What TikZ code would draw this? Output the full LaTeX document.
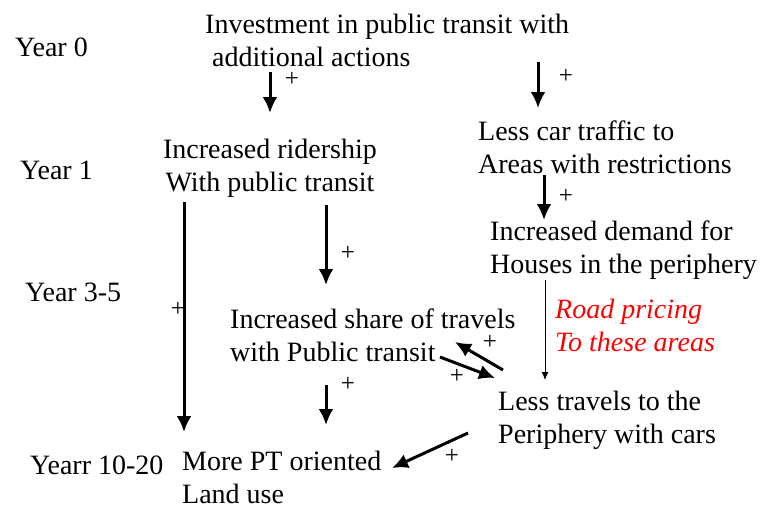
\documentclass[tikz,border=0pt]{standalone}
\usepackage{fontspec}
\setmainfont{Liberation Serif}
\usetikzlibrary{arrows.meta,calc}
\begin{document}
\begin{tikzpicture}[x=1pt,y=-1pt]
% Styles
\tikzstyle{txt}=[inner sep=0pt,font=\fontsize{28}{33}\selectfont]
\tikzstyle{bloc}=[txt,align=left,anchor=west]
\tikzstyle{sign}=[inner sep=0pt,font=\fontsize{25}{25}\selectfont]
\tikzstyle{link}=[-{Latex[length=16pt,width=15pt]},line width=3pt]
\tikzstyle{thinlink}=[-{Latex[length=8pt,width=7pt]},line width=0.9pt]
% Cadre
\useasboundingbox (0,0) rectangle (760,506);
% Colonne des annees
\node[txt,anchor=west] (yr0) at (15,47) {Year 0};
\node[txt,anchor=west] (yr1) at (20,170) {Year 1};
\node[txt,anchor=west] (yr35) at (25,292) {Year 3-5};
\node[txt,anchor=west] (yr1020) at (30,465) {Yearr 10-20};
% Blocs
\node[bloc] (inv) at (205,40) {Investment in public transit with\\ \hspace{7pt}additional actions};
\node[bloc] (less) at (478,147) {Less car traffic to\\ Areas with restrictions};
\node[txt,align=center] (ride) at (270,168) {Increased ridership\\With public transit};
\node[bloc] (dem) at (490,250) {Increased demand for\\Houses in the periphery};
\node[bloc] (share) at (230,335) {Increased share of travels\\with Public transit};
\node[bloc,red,font=\fontsize{28}{33}\selectfont\itshape] (road) at (555,325) {Road pricing\\To these areas};
\node[bloc] (trav) at (498,420) {Less travels to the\\Periphery with cars};
\node[bloc] (land) at (182,477) {More PT oriented\\Land use};
% Fleches
\draw[link] ($(inv.west)+(65,32)$) -- ($(ride.center)+(0,-55)$);
\draw[link] ($(less.west)+(60,-85)$) -- ($(less.west)+(60,-39)$);
\draw[link] ($(dem.west)+(54,-75)$) -- ($(dem.west)+(54,-30)$);
\draw[link] ($(ride.center)+(-86,34)$) -- ($(land.west)+(2,-45)$);
\draw[link] ($(ride.center)+(56,37)$) -- ($(share.west)+(96,-50)$);
\draw[thinlink] ($(dem.west)+(55,30)$) -- ($(trav.west)+(47,-40)$);
\draw[link] ($(trav.west)+(5,-50)$) -- ($(share.west)+(225,7)$);
\draw[link] ($(share.west)+(210,22)$) -- ($(trav.west)+(-3,-42)$);
\draw[link] ($(share.west)+(96,50)$) -- ($(land.west)+(144,-52)$);
\draw[link] ($(trav.west)+(-30,13)$) -- ($(land.west)+(210,-9)$);
% Signes
\node[sign] (s1) at (292,79) {+};
\node[sign] (s2) at (566,76) {+};
\node[sign] (s3) at (566,196) {+};
\node[sign] (s4) at (178,309) {+};
\node[sign] (s5) at (348,253) {+};
\node[sign] (s6) at (490,342) {+};
\node[sign] (s7) at (457,376) {+};
\node[sign] (s8) at (348,384) {+};
\node[sign] (s9) at (452,456) {+};
\end{tikzpicture}
\end{document}
